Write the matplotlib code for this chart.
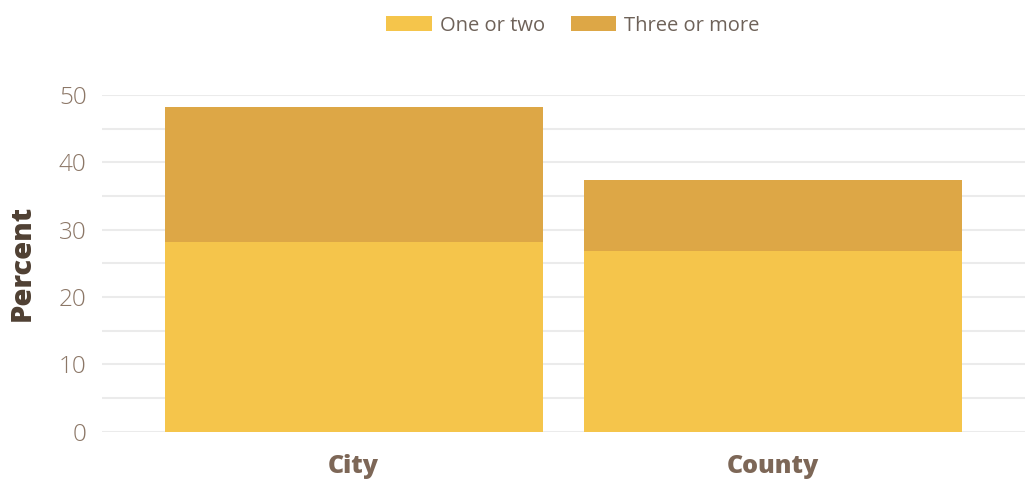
import matplotlib
matplotlib.use('Agg')
import matplotlib.pyplot as plt
import numpy as np

categories = ['City', 'County']
one_or_two = [28.1, 26.9]
three_or_more = [20.1, 10.5]

col_one = '#F5C54B'
col_three = '#DDA746'
tick_col = '#8C7767'
label_col = '#4F4033'
cat_col = '#7D6757'

plt.rcParams['font.family'] = ['Open Sans', 'DejaVu Sans']

fig = plt.figure(figsize=(10.29, 4.83), dpi=100)
ax = fig.add_axes([102 / 1029, 1 - 431.7 / 483, 923 / 1029, (431.7 - 95) / 483])

x = np.arange(len(categories))
ax.bar(x, one_or_two, width=0.9, color=col_one, label='One or two', zorder=3)
ax.bar(x, three_or_more, width=0.9, bottom=one_or_two, color=col_three,
       label='Three or more', zorder=3)

ax.set_xlim(-0.6, 1.6)
ax.set_ylim(0, 50)
ax.set_yticks(np.arange(0, 51, 10))
ax.set_yticks(np.arange(5, 50, 10), minor=True)
ax.grid(axis='y', which='both', color='#EBEBEB', linewidth=1.5, zorder=0)
ax.tick_params(axis='y', which='both', length=0, pad=11, labelsize=17.5, labelcolor=tick_col)
ax.tick_params(axis='x', length=0, pad=16)
ax.set_xticks(x)
ax.set_xticklabels(categories, fontsize=18, fontweight='heavy', color=cat_col)
for s in ax.spines.values():
    s.set_visible(False)
for lbl in ax.get_yticklabels():
    lbl.set_fontweight('light')

ax.set_ylabel('Percent', fontsize=21, fontweight='heavy', color=label_col, labelpad=16)

fig.legend(loc='upper center', bbox_to_anchor=(0.557, 1.005), ncol=2, frameon=False,
           fontsize=14.5, handlelength=2.25, handleheight=0.8, columnspacing=1.3,
           handletextpad=0.4, labelcolor='#6E6259')

fig.savefig('out.png', dpi=100)
